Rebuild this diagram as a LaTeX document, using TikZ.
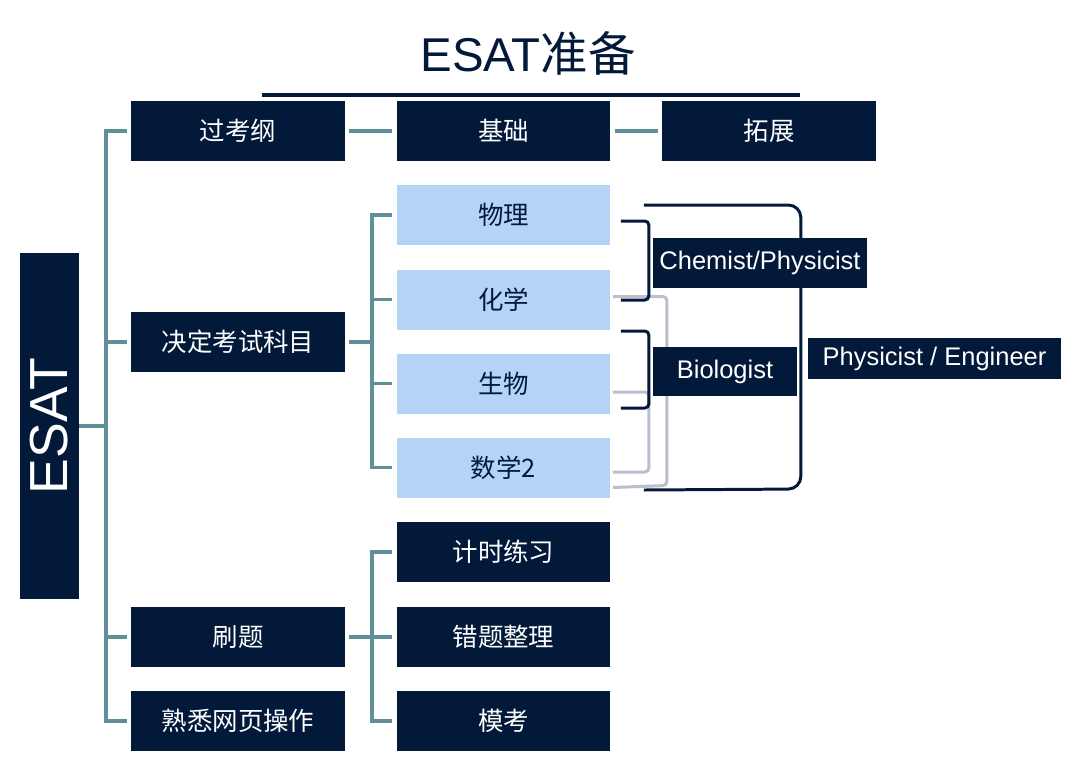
\documentclass[tikz,border=0pt]{standalone}
\usepackage{fontspec}
\setmainfont{Liberation Sans}
\newfontfamily\cjk{Noto Sans CJK SC}
\usepackage{tikz}
\usetikzlibrary{positioning}
\usepackage{xcolor}
\definecolor{navy}{HTML}{02193A}
\definecolor{subjblue}{HTML}{B4D3F6}
\definecolor{branchteal}{HTML}{5F9099}
\definecolor{brkgray}{HTML}{BABFCB}

\begin{document}
\begin{tikzpicture}[x=0.02cm, y=-0.02cm,
        box/.style={fill=navy, text=white, inner sep=0pt, minimum width=4.28cm, minimum height=1.2cm, font=\cjk\fontsize{14.5}{17}\selectfont},
        subj/.style={box, fill=subjblue, text=navy},
        role/.style={fill=navy, text=white, inner sep=0pt, font=\fontsize{14.5}{17}\selectfont},
        branch/.style={draw=branchteal, line width=1.9pt},
        gap/.style={shorten <=0.08cm, shorten >=0.08cm},
        darkbrk/.style={draw=navy, line width=1.7pt, rounded corners=0.08cm},
        graybrk/.style={draw=brkgray, line width=1.7pt, rounded corners=0.08cm}]
        \useasboundingbox (0,0) rectangle (1080,772);

        % Title
        \node[text=navy, font=\fontsize{27}{30}\selectfont] (title) at (528,53) {ESAT{\cjk 准备}};
        \coordinate (ruleL) at (262,95);
        \coordinate (ruleR) at (800,95);
        \draw[navy, line width=2pt] (ruleL) -- (ruleR);

        % Root
        \node[fill=navy, text=white, rotate=90, inner sep=0pt, minimum width=6.92cm, minimum height=1.18cm, font=\fontsize{30.5}{34}\selectfont] (esat) at (49.5,426) {ESAT};

        % First level
        \node[box] (kagang) at (238,131) {过考纲};
        \node[box] (kemu)   at (238,342) {决定考试科目};
        \node[box] (shuati) at (238,637) {刷题};
        \node[box] (wangye) at (238,721) {熟悉网页操作};

        % Second level
        \node[box] (jichu)   at (503.5,131) {基础};
        \node[box] (tuozhan) at (769,131)   {拓展};

        \node[subj] (wuli)   at (503.5,215)   {物理};
        \node[subj] (huaxue) at (503.5,299.5) {化学};
        \node[subj] (shengwu) at (503.5,383.5) {生物};
        \node[subj] (shuxue) at (503.5,467.5) {数学2};

        \node[box] (jishi) at (503.5,552) {计时练习};
        \node[box] (cuoti) at (503.5,637) {错题整理};
        \node[box] (mokao) at (503.5,721) {模考};

        % Trunk
        \coordinate (trunk) at (106,426);
        \draw[branch] (esat.south) -- (trunk);
        \draw[branch, shorten >=0.08cm] (trunk) |- (kagang.west);
        \draw[branch, shorten >=0.08cm] (trunk) |- (kemu.west);
        \draw[branch, shorten >=0.08cm] (trunk) |- (shuati.west);
        \draw[branch, shorten >=0.08cm] (trunk) |- (wangye.west);

        % Syllabus row
        \draw[branch, gap] (kagang) -- (jichu);
        \draw[branch, gap] (jichu) -- (tuozhan);

        % Subjects
        \coordinate (kemuhub) at (372,342);
        \draw[branch, shorten <=0.08cm] (kemu.east) -- (kemuhub);
        \draw[branch, shorten >=0.08cm] (kemuhub) |- (wuli.west);
        \draw[branch, shorten >=0.08cm] (kemuhub) |- (huaxue.west);
        \draw[branch, shorten >=0.08cm] (kemuhub) |- (shengwu.west);
        \draw[branch, shorten >=0.08cm] (kemuhub) |- (shuxue.west);

        % Practice
        \coordinate (shuatihub) at (372,637);
        \draw[branch, shorten <=0.08cm] (shuati.east) -- (shuatihub);
        \draw[branch, shorten >=0.08cm] (shuatihub) |- (jishi.west);
        \draw[branch, shorten >=0.08cm] (shuatihub) |- (cuoti.west);
        \draw[branch, shorten >=0.08cm] (shuatihub) |- (mokao.west);

        % Subject brackets
        \draw[graybrk] ([shift={(2,-3)}]huaxue.east) -| ([shift={(56,18)}]shuxue.east) -- ([shift={(2,20)}]shuxue.east);
        \draw[graybrk] ([shift={(2,8.5)}]shengwu.east) -| ([shift={(38,4.5)}]shuxue.east) -- ([shift={(2,4.5)}]shuxue.east);
        \draw[darkbrk] ([shift={(10,6)}]wuli.east) -| ([shift={(38,0.5)}]huaxue.east) -- ([shift={(10,0.5)}]huaxue.east);
        \draw[darkbrk] ([shift={(10,31.5)}]huaxue.east) -| ([shift={(38,24.5)}]shengwu.east) -- ([shift={(10,24.5)}]shengwu.east);
        \draw[darkbrk, rounded corners=0.25cm] ([shift={(33,-10)}]wuli.east) -| ([shift={(190,21.5)}]shuxue.east) -- ([shift={(33,22.5)}]shuxue.east);

        % Careers
        \node[role, minimum width=4.28cm, minimum height=1cm]    (chemphys) at (760,263)     {Chemist/Physicist};
        \node[role, minimum width=2.88cm, minimum height=0.98cm] (bio)      at (725,371.5)   {Biologist};
        \node[role, minimum width=5.06cm, minimum height=0.82cm] (physeng)  at (934.5,358.5) {Physicist / Engineer};
    \end{tikzpicture}
\end{document}
